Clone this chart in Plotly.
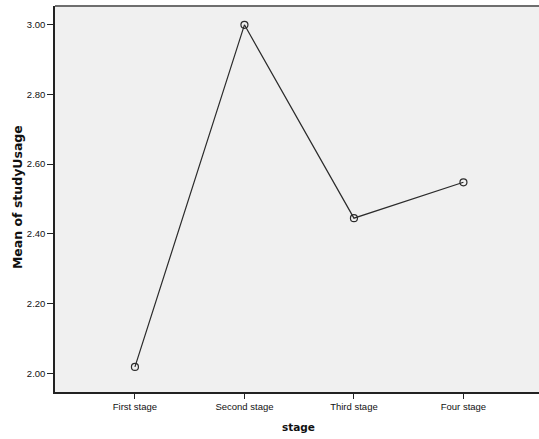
import plotly.graph_objects as go

stages = ["First stage", "Second stage", "Third stage", "Four stage"]
mean_study_usage = [2.018, 3.00, 2.445, 2.548]
y_tick_values = [2.0, 2.2, 2.4, 2.6, 2.8, 3.0]
y_tick_labels = ["2.00", "2.20", "2.40", "2.60", "2.80", "3.00"]

fig = go.Figure()
fig.add_trace(go.Scatter(
    x=list(range(len(stages))),
    y=mean_study_usage,
    mode="lines+markers",
    line=dict(color="#2b2b2b", width=1.2),
    marker=dict(symbol="circle-open", size=7, color="#2b2b2b", line=dict(width=1.2)),
    showlegend=False,
    cliponaxis=False,
))

fig.update_layout(
    width=539, height=439,
    margin=dict(l=55, r=0, t=6, b=47, autoexpand=False),
    paper_bgcolor="white",
    plot_bgcolor="#f0f0f0",
    font=dict(family="Liberation Sans, Arial, sans-serif", color="#111111"),
)
fig.update_xaxes(
    range=[-0.73, 3.69],
    tickmode="array",
    tickvals=list(range(len(stages))),
    ticktext=stages,
    ticks="outside", ticklen=5, tickcolor="#222222", tickwidth=1,
    tickfont=dict(size=9.5),
    showgrid=False, zeroline=False,
    showline=True, linecolor="#222222", linewidth=1.5,
    automargin=False,
)
fig.update_yaxes(
    range=[1.946, 3.054],
    tickmode="array",
    tickvals=y_tick_values,
    ticktext=y_tick_labels,
    ticks="outside", ticklen=6, tickcolor="#222222", tickwidth=1,
    tickfont=dict(size=9.5),
    showgrid=False, zeroline=False,
    showline=True, linecolor="#222222", linewidth=1.5,
    automargin=False,
)
fig.add_shape(type="line", xref="paper", yref="paper", x0=0, x1=1, y0=1, y1=1,
              layer="above", line=dict(color="#6e6e6e", width=2))
fig.add_annotation(text="<b>stage</b>", xref="paper", yref="paper", x=0.504, y=0,
                   yshift=-35, xanchor="center", yanchor="middle", showarrow=False,
                   font=dict(family="DejaVu Sans", size=10.5, color="#111111"))
fig.add_annotation(text="<b>Mean of studyUsage</b>", xref="paper", yref="paper", x=0, y=0.505,
                   xshift=-38, xanchor="center", yanchor="middle", textangle=-90, showarrow=False,
                   font=dict(family="DejaVu Sans", size=12.5, color="#111111"))

fig.write_html("out.html", config={"displayModeBar": False},
               post_script="document.body.style.margin='0px';document.body.style.overflow='hidden';")
